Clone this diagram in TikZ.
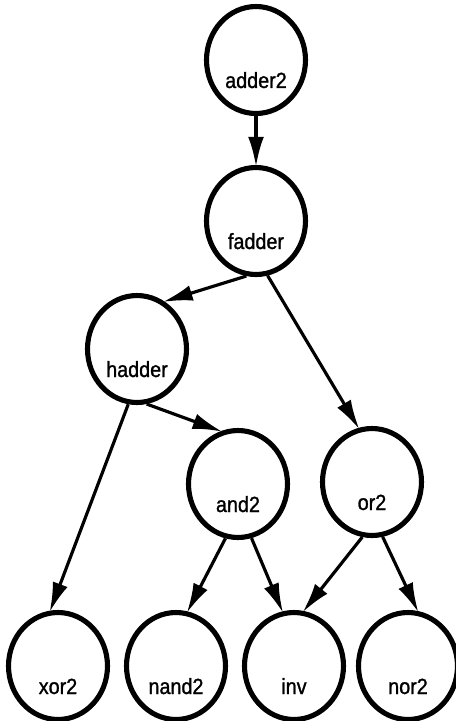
\documentclass[tikz,border=0pt]{standalone}
\usepackage{fontspec}
\setmainfont{Liberation Sans}[FakeStretch=0.9, FakeBold=1.2]
\usetikzlibrary{arrows.meta,shapes.geometric}

\begin{document}
\begin{tikzpicture}[x=0.02cm, y=-0.02cm, >={Latex[length=17pt,width=9pt]},
        gate/.style={ellipse, draw, line width=2.9pt, minimum width=1.98cm, minimum height=2.14cm,
            inner sep=0pt, text height=1.12cm, text depth=0pt, font=\fontsize{12.5}{14}\selectfont},
        link/.style={->, line width=1.8pt, shorten >=-1pt}]

        \useasboundingbox (0,0) rectangle (456,721);

        \node [gate] (adder2) at (256,60) {adder2};

        \node [gate] (fadder) at (256,221) {fadder};

        \node [gate] (hadder) at (137,349) {hadder};

        \node [gate] (and2) at (238,484) {and2};

        \node [gate] (or2) at (372,482) {or2};

        \node [gate] (xor2) at (58,666) {xor2};

        \node [gate] (nand2) at (176,666) {nand2};

        \node [gate] (inv) at (294,666) {inv};

        \node [gate] (nor2) at (408,666) {nor2};

        \draw[link] (adder2) -- (fadder);
        \draw[link] (fadder.260) -- (hadder.60);
        \draw[link] (fadder.282) -- (or2.104);
        \draw[link] (hadder.280) -- (and2.108);
        \draw[link] (hadder.261) -- (xor2.98);
        \draw[link] (and2.257) -- (nand2.78);
        \draw[link] (and2.284) -- (inv.102);
        \draw[link] (or2.260) -- (inv.80);
        \draw[link] (or2.281) -- (nor2.80);
    \end{tikzpicture}
\end{document}
